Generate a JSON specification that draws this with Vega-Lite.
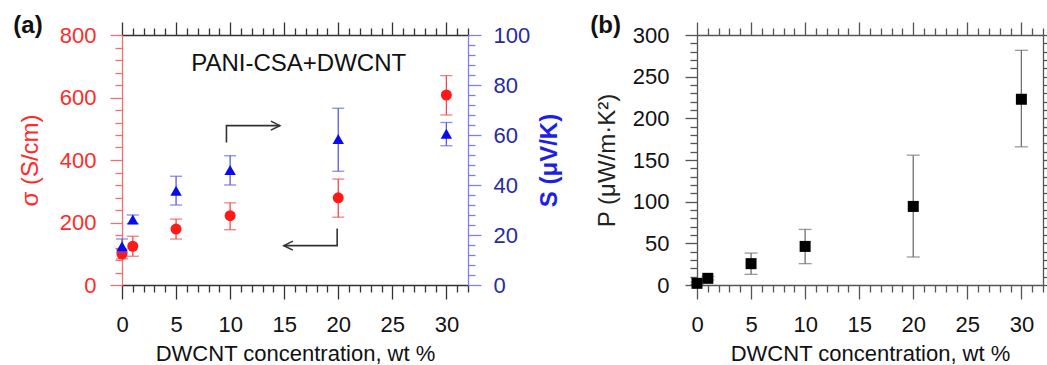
{
  "$schema": "https://vega.github.io/schema/vega-lite/v6.json",
  "background": "white",
  "padding": {"left": 13, "top": 14, "right": 0, "bottom": 0},
  "spacing": 28,
  "config": {
    "font": "Liberation Sans",
    "view": {"stroke": null},
    "axis": {"grid": false, "labelFont": "Liberation Sans", "titleFont": "Liberation Sans", "labelFontSize": 22, "titleFontSize": 24, "titleFontWeight": "normal", "labelFlush": false, "labelOverlap": false},
    "title": {"font": "Liberation Sans"}
  },
  "datasets": {
    "sigma": [
      {"c": 0, "v": 99, "lo": 84, "hi": 115},
      {"c": 1, "v": 124, "lo": 92, "hi": 156},
      {"c": 5, "v": 179, "lo": 147, "hi": 211},
      {"c": 10, "v": 222, "lo": 177, "hi": 263},
      {"c": 20, "v": 279, "lo": 217, "hi": 339},
      {"c": 30, "v": 608, "lo": 544, "hi": 670}
    ],
    "seebeck": [
      {"c": 0, "v": 15.5, "lo": 13.1, "hi": 18.4},
      {"c": 1, "v": 26.2, "lo": 24.6, "hi": 28},
      {"c": 5, "v": 37.7, "lo": 32, "hi": 43.5},
      {"c": 10, "v": 46, "lo": 40, "hi": 51.7},
      {"c": 20, "v": 58.4, "lo": 45.5, "hi": 70.7},
      {"c": 30, "v": 60.5, "lo": 55.7, "hi": 65}
    ],
    "power": [
      {"c": 0, "v": 2, "lo": 0.5, "hi": 3.5},
      {"c": 1, "v": 8, "lo": 6, "hi": 10},
      {"c": 5, "v": 25.6, "lo": 12.8, "hi": 38.3},
      {"c": 10, "v": 46.3, "lo": 25.6, "hi": 66.7},
      {"c": 20, "v": 94.3, "lo": 33.6, "hi": 155.8},
      {"c": 30, "v": 222.9, "lo": 165.8, "hi": 281.6}
    ],
    "arrows": [
      {"a": 1, "o": 0, "c": 9.66, "v": 456},
      {"a": 1, "o": 1, "c": 9.66, "v": 510},
      {"a": 1, "o": 2, "c": 14.6, "v": 510},
      {"a": 2, "o": 0, "c": 19.9, "v": 181},
      {"a": 2, "o": 1, "c": 19.9, "v": 126},
      {"a": 2, "o": 2, "c": 14.97, "v": 126}
    ],
    "heads": [
      {"dir": "right", "c": 14.6, "v": 510},
      {"dir": "left", "c": 14.97, "v": 126}
    ],
    "label": [
      {"t": "PANI-CSA+DWCNT", "c": 16.34, "v": 706}
    ]
  },
  "hconcat": [
    {
      "width": 346,
      "height": 250,
      "title": {"text": "(a)", "anchor": "start", "frame": "bounds", "fontSize": 24, "fontWeight": "bold", "color": "#111111", "dx": -5, "offset": -17},
      "layer": [
        {
          "data": {"name": "sigma"},
          "mark": {"type": "errorbar", "orient": "vertical", "color": "#f04a4a", "thickness": 1.3, "ticks": {"size": 12, "thickness": 1.3}},
          "encoding": {
            "x": {"field": "c", "type": "quantitative", "scale": {"domain": [0, 32], "nice": false, "zero": false},
              "axis": {"orient": "bottom", "title": "DWCNT concentration, wt %", "titleFontSize": 22, "titleColor": "#111111", "titlePadding": 8,
                "values": [0,1,2,3,4,5,6,7,8,9,10,11,12,13,14,15,16,17,18,19,20,21,22,23,24,25,26,27,28,29,30,31,32],
                "labelExpr": "datum.value % 5 === 0 ? datum.label : ''",
                "tickSize": {"condition": {"test": "datum.value % 5 === 0", "value": 14}, "value": 7},
                "labelPadding": 15, "labelColor": "#111111", "domainColor": "#333333", "tickColor": "#333333", "domainWidth": 1.3, "tickWidth": 1.3}},
            "y": {"field": "lo", "type": "quantitative", "scale": {"domain": [0, 800], "nice": false},
              "axis": {"orient": "left", "title": "σ (S/cm)", "titleColor": "#ff2a2a", "titlePadding": 17,
                "values": [0,40,80,120,160,200,240,280,320,360,400,440,480,520,560,600,640,680,720,760,800],
                "labelExpr": "datum.value % 200 === 0 ? datum.label : ''",
                "tickSize": {"condition": {"test": "datum.value % 200 === 0", "value": 12}, "value": 7},
                "labelPadding": 14, "labelColor": "#ff2a2a", "domainColor": "#f07070", "tickColor": "#f07070", "domainWidth": 1.3, "tickWidth": 1.3}},
            "y2": {"field": "hi"}
          }
        },
        {
          "data": {"name": "sigma"},
          "mark": {"type": "point", "shape": "circle", "filled": true, "size": 121, "color": "#ff1a1a", "opacity": 1},
          "encoding": {
            "x": {"field": "c", "type": "quantitative", "scale": {"domain": [0, 32], "nice": false, "zero": false}, "axis": null},
            "y": {"field": "v", "type": "quantitative", "scale": {"domain": [0, 800], "nice": false}, "axis": null}
          }
        },
        {
          "data": {"name": "arrows"},
          "mark": {"type": "line", "color": "#333333", "strokeWidth": 1.6},
          "encoding": {
            "x": {"field": "c", "type": "quantitative", "scale": {"domain": [0, 32], "nice": false, "zero": false}, "axis": null},
            "y": {"field": "v", "type": "quantitative", "scale": {"domain": [0, 800], "nice": false}, "axis": null},
            "detail": {"field": "a"},
            "order": {"field": "o"}
          }
        },
        {
          "data": {"name": "heads"},
          "mark": {"type": "point", "filled": false, "size": 324, "color": "#333333", "strokeWidth": 1.6, "opacity": 1},
          "encoding": {
            "x": {"field": "c", "type": "quantitative", "scale": {"domain": [0, 32], "nice": false, "zero": false}, "axis": null},
            "y": {"field": "v", "type": "quantitative", "scale": {"domain": [0, 800], "nice": false}, "axis": null},
            "shape": {"field": "dir", "type": "nominal", "scale": {"domain": ["right", "left"], "range": ["M-1,-0.5L0,0L-1,0.5", "M1,-0.5L0,0L1,0.5"]}, "legend": null}
          }
        },
        {
          "data": {"name": "label"},
          "mark": {"type": "text", "fontSize": 24, "color": "#111111", "align": "center", "baseline": "middle"},
          "encoding": {
            "x": {"field": "c", "type": "quantitative", "scale": {"domain": [0, 32], "nice": false, "zero": false}, "axis": null},
            "y": {"field": "v", "type": "quantitative", "scale": {"domain": [0, 800], "nice": false}, "axis": null},
            "text": {"field": "t"}
          }
        },
        {
          "data": {"name": "seebeck"},
          "mark": {"type": "errorbar", "orient": "vertical", "color": "#5a5ae6", "thickness": 1.3, "ticks": {"size": 12, "thickness": 1.3}},
          "encoding": {
            "x": {"field": "c", "type": "quantitative", "scale": {"domain": [0, 32], "nice": false, "zero": false},
              "axis": {"orient": "top", "title": null, "labels": false,
                "values": [0,1,2,3,4,5,6,7,8,9,10,11,12,13,14,15,16,17,18,19,20,21,22,23,24,25,26,27,28,29,30,31,32],
                "tickSize": {"condition": {"test": "datum.value % 5 === 0", "value": 13}, "value": 7},
                "domainColor": "#333333", "tickColor": "#333333", "domainWidth": 1.3, "tickWidth": 1.3}},
            "y": {"field": "lo", "type": "quantitative", "scale": {"domain": [0, 100], "nice": false},
              "axis": {"orient": "right", "title": "S (μV/K)", "titleColor": "#1e1ee6", "titleFontWeight": "bold", "titleAngle": 270, "titlePadding": 32,
                "values": [0,4,8,12,16,20,24,28,32,36,40,44,48,52,56,60,64,68,72,76,80,84,88,92,96,100],
                "labelExpr": "datum.value % 20 === 0 ? datum.label : ''",
                "tickSize": {"condition": {"test": "datum.value % 20 === 0", "value": 13}, "value": 7},
                "labelPadding": 12, "labelColor": "#2a2aa0", "domainColor": "#8080e8", "tickColor": "#8080e8", "domainWidth": 1.3, "tickWidth": 1.3}},
            "y2": {"field": "hi"}
          }
        },
        {
          "data": {"name": "seebeck"},
          "mark": {"type": "point", "shape": "triangle-up", "filled": true, "size": 130, "color": "#0a0af0", "opacity": 1},
          "encoding": {
            "x": {"field": "c", "type": "quantitative", "scale": {"domain": [0, 32], "nice": false, "zero": false}, "axis": null},
            "y": {"field": "v", "type": "quantitative", "scale": {"domain": [0, 100], "nice": false}, "axis": null}
          }
        }
      ],
      "resolve": {"scale": {"y": "independent"}, "axis": {"x": "independent", "y": "independent"}}
    },
    {
      "width": 346,
      "height": 250,
      "title": {"text": "(b)", "anchor": "start", "frame": "bounds", "fontSize": 24, "fontWeight": "bold", "color": "#111111", "dx": -5, "offset": -17},
      "layer": [
        {
          "data": {"name": "power"},
          "mark": {"type": "errorbar", "orient": "vertical", "color": "#707070", "thickness": 1.3, "ticks": {"size": 13, "thickness": 1.3}},
          "encoding": {
            "x": {"field": "c", "type": "quantitative", "scale": {"domain": [0, 32], "nice": false, "zero": false},
              "axis": {"orient": "top", "title": null, "labels": false,
                "values": [0,1,2,3,4,5,6,7,8,9,10,11,12,13,14,15,16,17,18,19,20,21,22,23,24,25,26,27,28,29,30,31,32],
                "tickSize": {"condition": {"test": "datum.value % 5 === 0", "value": 13}, "value": 7},
                "domainColor": "#555555", "tickColor": "#555555", "domainWidth": 1.3, "tickWidth": 1.3}},
            "y": {"field": "lo", "type": "quantitative", "scale": {"domain": [0, 300], "nice": false},
              "axis": {"orient": "right", "title": null, "labels": false,
                "values": [0,10,20,30,40,50,60,70,80,90,100,110,120,130,140,150,160,170,180,190,200,210,220,230,240,250,260,270,280,290,300],
                "tickSize": {"condition": {"test": "datum.value % 50 === 0", "value": 12}, "value": 7},
                "domainColor": "#555555", "tickColor": "#555555", "domainWidth": 1.3, "tickWidth": 1.3}},
            "y2": {"field": "hi"}
          }
        },
        {
          "data": {"name": "power"},
          "mark": {"type": "point", "shape": "square", "filled": true, "size": 121, "color": "#000000", "opacity": 1},
          "encoding": {
            "x": {"field": "c", "type": "quantitative", "scale": {"domain": [0, 32], "nice": false, "zero": false},
              "axis": {"orient": "bottom", "title": "DWCNT concentration, wt %", "titleFontSize": 22, "titleColor": "#111111", "titlePadding": 8,
                "values": [0,1,2,3,4,5,6,7,8,9,10,11,12,13,14,15,16,17,18,19,20,21,22,23,24,25,26,27,28,29,30,31,32],
                "labelExpr": "datum.value % 5 === 0 ? datum.label : ''",
                "tickSize": {"condition": {"test": "datum.value % 5 === 0", "value": 14}, "value": 7},
                "labelPadding": 15, "labelColor": "#111111", "domainColor": "#555555", "tickColor": "#555555", "domainWidth": 1.3, "tickWidth": 1.3}},
            "y": {"field": "v", "type": "quantitative", "scale": {"domain": [0, 300], "nice": false},
              "axis": {"orient": "left", "title": "P (μW/m·K²)", "titleColor": "#222222", "titlePadding": 13,
                "values": [0,10,20,30,40,50,60,70,80,90,100,110,120,130,140,150,160,170,180,190,200,210,220,230,240,250,260,270,280,290,300],
                "labelExpr": "datum.value % 50 === 0 ? datum.label : ''",
                "tickSize": {"condition": {"test": "datum.value % 50 === 0", "value": 12}, "value": 7},
                "labelPadding": 16, "labelColor": "#111111", "domainColor": "#555555", "tickColor": "#555555", "domainWidth": 1.3, "tickWidth": 1.3}}
          }
        }
      ],
      "resolve": {"axis": {"x": "independent", "y": "independent"}}
    }
  ]
}
